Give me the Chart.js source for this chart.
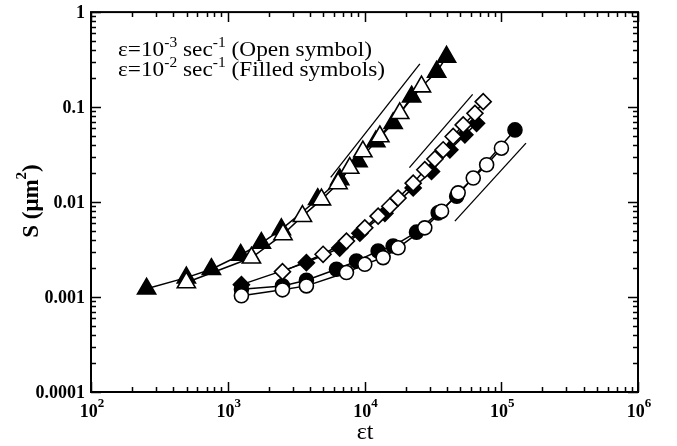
<!DOCTYPE html>
<html lang="en">
<head>
    <meta charset="UTF-8">
    <title>S vs strain</title>
    <script src="https://cdn.jsdelivr.net/npm/chart.js@4.4.0/dist/chart.umd.min.js"></script>
    <style>
        body { margin: 0; background: #fff; }
        #wrap { width: 677px; height: 446px; }
    </style>
</head>
<body>
    <div id="wrap"><canvas id="chart" width="677" height="446"></canvas></div>

    <script>
        // values (x = eps*t, y = S in um^2)
        const triFilledX = [255, 498, 759, 1242, 1761, 2466, 4546, 6590, 8970, 12100, 16200, 22100, 33700, 39800];
        const triFilledY = [0.00122, 0.0016, 0.00196, 0.00277, 0.0037, 0.00515, 0.0107, 0.0173, 0.0268, 0.0434, 0.0675, 0.1285, 0.235, 0.337];
        const triOpenX = [498, 1490, 2535, 3516, 4845, 6410, 7800, 9730, 12950, 18100, 26100];
        const triOpenY = [0.00142, 0.00259, 0.00456, 0.0071, 0.0106, 0.0157, 0.0228, 0.034, 0.049, 0.086, 0.164];

        const diaFilledX = [1259, 3760, 6590, 9250, 14100, 22700, 30900, 42100, 54200, 66000];
        const diaFilledY = [0.00135, 0.0023, 0.00328, 0.0047, 0.0076, 0.0141, 0.021, 0.0355, 0.051, 0.0675];
        const diaOpenX = [2513, 4980, 7380, 10050, 12580, 15320, 17600, 22700, 27600, 32700, 37600, 44500, 52700, 64200, 73800];
        const diaOpenY = [0.00185, 0.00282, 0.00388, 0.00535, 0.0071, 0.00903, 0.011, 0.0158, 0.0219, 0.0284, 0.0355, 0.049, 0.0649, 0.0859, 0.114];

        const cirFilledX = [1259, 2513, 3760, 6240, 8730, 12580, 16200, 24000, 34600, 47200, 126000];
        const cirFilledY = [0.00121, 0.00131, 0.0015, 0.00196, 0.00239, 0.00305, 0.00344, 0.00482, 0.00769, 0.0115, 0.0575];
        const cirOpenX = [1259, 2513, 3760, 7380, 10050, 13680, 17600, 27600, 36600, 48400, 62400, 78200, 100300];
        const cirOpenY = [0.00103, 0.00119, 0.00131, 0.00181, 0.00221, 0.0026, 0.0033, 0.00535, 0.00801, 0.0125, 0.0179, 0.0247, 0.0369];

        // straight guide lines
        const guide1X = [5660, 25400], guide1Y = [0.0182, 0.285];
        const guide2X = [21300, 61800], guide2Y = [0.023, 0.136];
        const guide3X = [45800, 151700], guide3Y = [0.00629, 0.0417];

        const yTickValues = [1, 0.1, 0.01, 0.001, 0.0001];
        const yTickLabels = ['1', '0.1', '0.01', '0.001', '0.0001'];
        const xTickValues = [1e2, 1e3, 1e4, 1e5, 1e6];
        const xTickExps = ['2', '3', '4', '5', '6'];

        const SERIF = '"Liberation Serif", "DejaVu Serif", serif';

        function pts(xs, ys) {
            return xs.map((x, i) => ({ x: x, y: ys[i] }));
        }

        function series(xs, ys, style, filled, radius, order) {
            return {
                data: pts(xs, ys),
                showLine: true,
                borderColor: '#000',
                borderWidth: 1.5,
                pointStyle: style,
                pointRadius: radius,
                pointBackgroundColor: filled ? '#000' : '#fff',
                pointBorderColor: '#000',
                pointBorderWidth: 1.6,
                order: order
            };
        }

        function guide(xs, ys) {
            return {
                data: pts(xs, ys),
                showLine: true,
                borderColor: '#000',
                borderWidth: 1.3,
                pointRadius: 0,
                order: 3
            };
        }

        // draw a run of text pieces, some raised as superscripts
        function drawRuns(ctx, runs, x, y) {
            runs.forEach(r => {
                ctx.font = r.font;
                ctx.fillText(r.text, x, y - (r.rise || 0));
                x += ctx.measureText(r.text).width;
            });
            return x;
        }

        function runsWidth(ctx, runs) {
            let w = 0;
            runs.forEach(r => { ctx.font = r.font; w += ctx.measureText(r.text).width; });
            return w;
        }

        const frame = {
            id: 'frame',
            afterDraw(chart) {
                const ctx = chart.ctx;
                const xs = chart.scales.x, ys = chart.scales.y;
                const a = chart.chartArea;
                ctx.save();
                ctx.strokeStyle = '#000';
                ctx.fillStyle = '#000';

                // ticks, pointing inward on all four sides
                ctx.lineWidth = 1.5;
                ctx.beginPath();
                for (let d = 2; d <= 6; d++) {
                    for (let m = 1; m <= 9; m++) {
                        if (d === 6 && m > 1) break;
                        const px = Math.round(xs.getPixelForValue(m * Math.pow(10, d))) + 0.5;
                        const len = m === 1 ? 10 : 5;
                        ctx.moveTo(px, a.bottom); ctx.lineTo(px, a.bottom - len);
                        ctx.moveTo(px, a.top); ctx.lineTo(px, a.top + len);
                    }
                }
                for (let d = -4; d <= 0; d++) {
                    for (let m = 1; m <= 9; m++) {
                        if (d === 0 && m > 1) break;
                        const py = Math.round(ys.getPixelForValue(m * Math.pow(10, d))) + 0.5;
                        const len = m === 1 ? 10 : 5;
                        ctx.moveTo(a.left, py); ctx.lineTo(a.left + len, py);
                        ctx.moveTo(a.right, py); ctx.lineTo(a.right - len, py);
                    }
                }
                ctx.stroke();

                // frame
                ctx.lineWidth = 2;
                ctx.strokeRect(a.left, a.top, a.right - a.left, a.bottom - a.top);

                // y tick labels
                ctx.font = 'bold 18px ' + SERIF;
                ctx.textAlign = 'right';
                ctx.textBaseline = 'middle';
                yTickValues.forEach((v, i) => {
                    ctx.fillText(yTickLabels[i], a.left - 6, ys.getPixelForValue(v) + 1);
                });

                // x tick labels 10^n
                ctx.textAlign = 'left';
                ctx.textBaseline = 'alphabetic';
                xTickValues.forEach((v, i) => {
                    const runs = [
                        { text: '10', font: 'bold 18px ' + SERIF },
                        { text: xTickExps[i], font: 'bold 13px ' + SERIF, rise: 10 }
                    ];
                    const w = runsWidth(ctx, runs);
                    drawRuns(ctx, runs, xs.getPixelForValue(v) - w / 2 + 1, 417);
                });

                // x title
                ctx.font = '24px ' + SERIF;
                ctx.textAlign = 'center';
                ctx.fillText('\u03b5t', 365, 439);

                // y title, rotated
                ctx.save();
                ctx.translate(38, 201);
                ctx.rotate(-Math.PI / 2);
                ctx.textAlign = 'left';
                const yRuns = [
                    { text: 'S (\u03bcm', font: 'bold 23px ' + SERIF },
                    { text: '2', font: 'bold 15px ' + SERIF, rise: 12 },
                    { text: ')', font: 'bold 23px ' + SERIF }
                ];
                drawRuns(ctx, yRuns, -runsWidth(ctx, yRuns) / 2, 0);
                ctx.restore();

                // annotation text, stretched a little to the original's width
                ctx.textAlign = 'left';
                const big = '21px ' + SERIF, small = '14px ' + SERIF;
                const line1 = [
                    { text: '\u03b5=10', font: big },
                    { text: '-3', font: small, rise: 9 },
                    { text: ' sec', font: big },
                    { text: '-1', font: small, rise: 9 },
                    { text: ' (Open symbol)', font: big }
                ];
                const line2 = [
                    { text: '\u03b5=10', font: big },
                    { text: '-2', font: small, rise: 9 },
                    { text: ' sec', font: big },
                    { text: '-1', font: small, rise: 9 },
                    { text: ' (Filled symbols)', font: big }
                ];
                const sx = 254 / runsWidth(ctx, line1);
                ctx.save();
                ctx.translate(118, 0);
                ctx.scale(sx, 1);
                drawRuns(ctx, line1, 0, 56);
                drawRuns(ctx, line2, 0, 76);
                ctx.restore();

                ctx.restore();
            }
        };

        new Chart(document.getElementById('chart'), {
            type: 'scatter',
            data: {
                datasets: [
                    series(triOpenX, triOpenY, 'triangle', false, 10.5, 1),
                    series(diaOpenX, diaOpenY, 'rectRot', false, 8, 1),
                    series(cirOpenX, cirOpenY, 'circle', false, 7, 1),
                    series(triFilledX, triFilledY, 'triangle', true, 10.5, 2),
                    series(diaFilledX, diaFilledY, 'rectRot', true, 8, 2),
                    series(cirFilledX, cirFilledY, 'circle', true, 7, 2),
                    guide(guide1X, guide1Y),
                    guide(guide2X, guide2Y),
                    guide(guide3X, guide3Y)
                ]
            },
            options: {
                responsive: false,
                animation: false,
                devicePixelRatio: 1,
                layout: { padding: { left: 91, right: 39, top: 10, bottom: 54 } },
                scales: {
                    x: { type: 'logarithmic', min: 100, max: 1e6, display: false },
                    y: { type: 'logarithmic', min: 1e-4, max: 1, display: false }
                },
                plugins: {
                    legend: { display: false },
                    tooltip: { enabled: false }
                }
            },
            plugins: [frame]
        });
    </script>
</body>
</html>
